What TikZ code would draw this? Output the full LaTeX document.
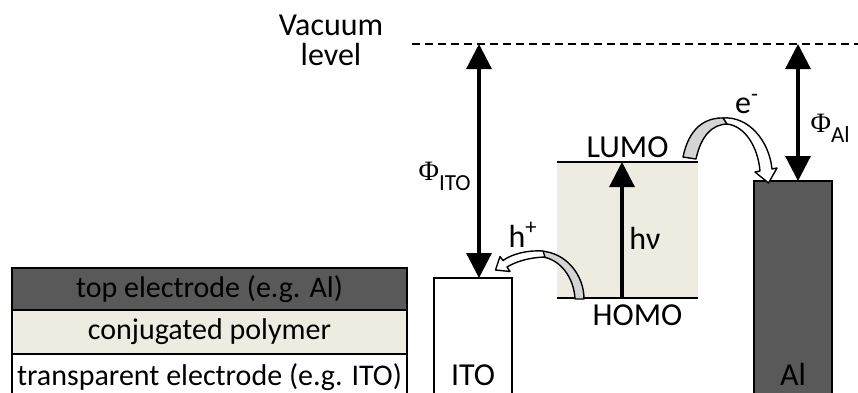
\documentclass[tikz,border=0pt]{standalone}
\usepackage{fontspec}
\setmainfont{Carlito}
\newfontfamily\phifont{Liberation Serif}
\definecolor{electrodegray}{HTML}{595959}
\definecolor{polymerbeige}{HTML}{EEECE1}
\definecolor{ribbongray}{HTML}{D4D4D4}
\newcommand{\workfn}[1]{{\phifont\fontsize{14}{14}\selectfont Φ}%
    \raisebox{-5pt}{\fontsize{11.5}{11.5}\selectfont #1}}
\usetikzlibrary{arrows.meta,positioning}
\tikzset{
    levellabel/.style={
        font=\fontsize{16}{15}\selectfont,
        inner sep=1pt,
        align=center
    },
    layerbox/.style={
        draw=black,
        line width=1pt,
        minimum width=197.5pt,
        inner xsep=1pt,
        outer sep=0pt,
        font=\fontsize{15}{17}\selectfont
    },
    electrodebox/.style={
        draw=black,
        line width=1pt,
        minimum width=39pt,
        outer sep=0pt
    },
    bandbox/.style={
        fill=polymerbeige,
        minimum width=70.5pt,
        minimum height=68pt,
        outer sep=0pt
    },
    levelline/.style={
        line width=1pt
    },
    vacuumline/.style={
        dash pattern=on 4pt off 2.5pt,
        line width=0.7pt
    },
    levelarrow/.style={
        -{Triangle[length=12.5pt,width=12.5pt]},
        line width=1.6pt
    },
    workarrow/.style={
        {Triangle[length=12.5pt,width=12.5pt]}-{Triangle[length=12.5pt,width=12.5pt]},
        line width=1.6pt
    },
    ribbon/.style={
        draw=black,
        line width=0.7pt,
        line join=round
    }
}

\begin{document}
\begin{tikzpicture}[x=0.5pt,y=-0.5pt]
    \clip (0,0) rectangle (858,392);

    % layer stack
    \node[layerbox,fill=electrodegray,minimum height=21pt] (toplayer) at (209.5,289)
        {top electrode (e.g. Al)};
    \node[layerbox,fill=polymerbeige,minimum height=22pt,below=0pt of toplayer] (polymerlayer)
        {conjugated polymer};
    \node[layerbox,fill=white,minimum height=23pt,below=0pt of polymerlayer] (itolayer)
        {transparent electrode (e.g. ITO)};

    % energy levels
    \node[electrodebox,fill=white,minimum height=61pt] (ito) at (473,339) {};
    \node[electrodebox,fill=electrodegray,minimum height=109.5pt] (al) at (793,290.5) {};
    \node[levellabel,anchor=base] (itotext) at (473,385) {ITO};
    \node[levellabel,anchor=base] (altext) at (793,385) {Al};

    \node[bandbox] (polymer) at (627.5,230) {};
    \draw[levelline] (polymer.north west) -- (polymer.north east);
    \draw[levelline] (polymer.south west) -- (polymer.south east);
    \node[levellabel,above=1pt of polymer.north] (lumo) {LUMO};
    \node[levellabel,below=2pt of polymer.south,xshift=5pt] (homo) {HOMO};

    \coordinate (vacleft) at (412,44);
    \coordinate (vacright) at (858,44);
    \draw[vacuumline] (vacleft) -- (vacright);
    \node[levellabel] (vacuum) at (331,40) {Vacuum\\level};

    \coordinate (itotop) at (479,44);
    \coordinate (altop) at (798,44);
    \coordinate (hvbase) at (622,298);
    \draw[workarrow] (itotop) -- (itotop |- ito.north);
    \draw[workarrow] (altop) -- (altop |- al.north);
    \draw[levelarrow] (hvbase) -- (hvbase |- polymer.north);

    \node[levellabel,anchor=base east] (phiito) at (473,180) {\workfn{ITO}};
    \node[levellabel,anchor=base east] (phial) at (852,132) {\workfn{Al}};
    \node[levellabel] (hv) at (645,238) {hν};

    % electron and hole transfer
    \filldraw[ribbon,fill=ribbongray] (683,157) .. controls (689,128) and (705,117) .. (725,118)
        -- (728,124) .. controls (712,124) and (701,136) .. (696,159) -- cycle;
    \filldraw[ribbon,fill=white] (723,118) .. controls (748,116) and (769,140) .. (772,169)
        -- (777,168) -- (768.5,183) -- (755,172) -- (760,171)
        .. controls (758,147) and (745,126) .. (727,124) -- cycle;
    \node[levellabel] (electron) at (747,104) {e\textsuperscript{-}};

    \filldraw[ribbon,fill=ribbongray] (584,299) .. controls (584,275) and (566,252) .. (540,251)
        -- (543,257) .. controls (561,260) and (574,278) .. (575,299) -- cycle;
    \filldraw[ribbon,fill=white] (543,251) .. controls (527,250) and (512,254) .. (503,260.5)
        -- (500,256.5) -- (495.5,270) -- (510,271.5) -- (507,267)
        .. controls (517,261) and (530,257.5) .. (545,257) -- cycle;
    \node[levellabel] (hole) at (523,235) {h\textsuperscript{+}};
\end{tikzpicture}
\end{document}
